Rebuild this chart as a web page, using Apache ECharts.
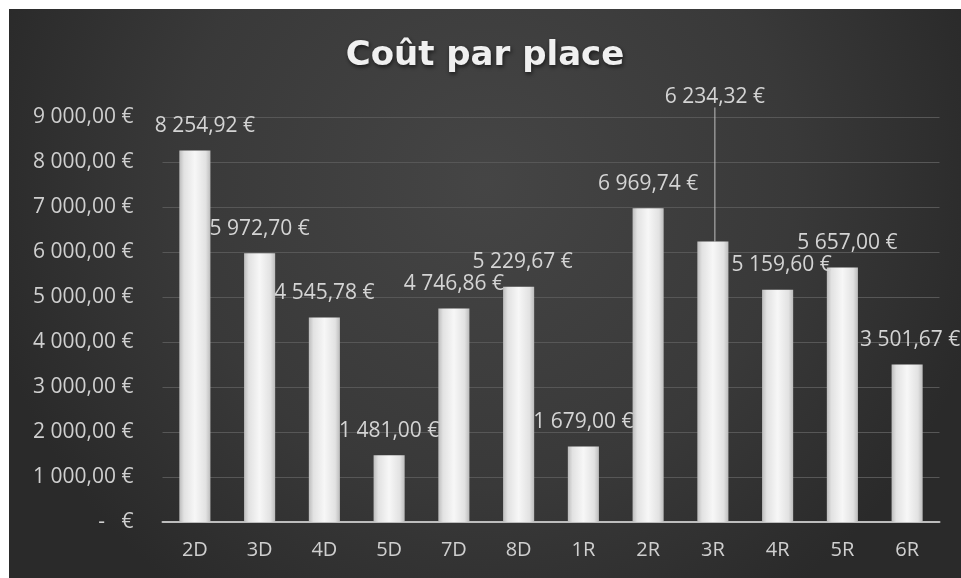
<!DOCTYPE html>
<html lang="fr">
<head>
    <meta charset="UTF-8">
    <title>Coût par place</title>
    <style>
        html, body { margin: 0; padding: 0; background: #fff; }
        #main { position: absolute; left: 9px; top: 9px; width: 952px; height: 569px; }
    </style>
</head>
<body>
<div id="main"></div>
<script src="https://cdn.jsdelivr.net/npm/echarts@6/dist/echarts.min.js"></script>
<script>
const categories = ['2D', '3D', '4D', '5D', '7D', '8D', '1R', '2R', '3R', '4R', '5R', '6R']
const costs = [8254.92, 5972.70, 4545.78, 1481.00, 4746.86, 5229.67, 1679.00, 6969.74, 6234.32, 5159.60, 5657.00, 3501.67]

// labels moved by hand in the original chart
const labelDx = [10, 0, 0, 0, 0, 4, 0, 0, 2, 4, 5, 3]
const labelDy = [0, 0, 0, 0, 0, 0, 0, 0, -120, 0, 0, 0]
const LEADER_INDEX = 8

const FONT = '"Open Sans", "Noto Sans", sans-serif'

function euro(v) {
    if (v === 0) return '-   €'
    let parts = v.toFixed(2).split('.')
    let int = parts[0].replace(/\B(?=(\d{3})+(?!\d))/g, ' ')
    return int + ',' + parts[1] + ' €'
}

let chartDom = document.getElementById('main')
let myChart = echarts.init(chartDom)

let barColor = new echarts.graphic.LinearGradient(0, 0, 1, 0, [
    {offset: 0, color: '#bcbcbc'},
    {offset: 0.15, color: '#e2e2e2'},
    {offset: 0.5, color: '#f7f7f7'},
    {offset: 0.85, color: '#e2e2e2'},
    {offset: 1, color: '#bcbcbc'}
])

let data = costs.map((v, i) => {
    let item = {value: v}
    if (i === LEADER_INDEX) item.labelLine = {show: true}
    return item
})

let option = {
    backgroundColor: new echarts.graphic.RadialGradient(0.5, 0.3, 0.9, [
        {offset: 0, color: '#454545'},
        {offset: 0.6, color: '#393939'},
        {offset: 1, color: '#2a2a2a'}
    ]),
    animation: false,
    title: {
        text: 'Coût par place',
        left: 'center',
        top: 25,
        textStyle: {
            color: '#f0f0f0',
            fontFamily: '"DejaVu Sans", sans-serif',
            fontSize: 34,
            fontWeight: 'bold',
            textShadowColor: 'rgba(0,0,0,0.6)',
            textShadowBlur: 4,
            textShadowOffsetX: 1,
            textShadowOffsetY: 2
        }
    },
    grid: {left: 153.5, right: 21.5, top: 108, bottom: 56, containLabel: false},
    xAxis: {
        type: 'category',
        data: categories,
        axisTick: {show: false},
        axisLine: {lineStyle: {color: '#bdbdbd', width: 2}},
        axisLabel: {color: '#cfcfcf', fontFamily: FONT, fontSize: 20, margin: 18}
    },
    yAxis: {
        type: 'value',
        min: 0,
        max: 9000,
        interval: 1000,
        axisLine: {show: false},
        axisTick: {show: false},
        splitLine: {lineStyle: {color: '#575757', width: 1}},
        axisLabel: {
            color: '#cfcfcf',
            fontFamily: FONT,
            fontSize: 21,
            margin: 29,
            formatter: euro
        }
    },
    series: [{
        type: 'bar',
        data: data,
        barWidth: '48%',
        itemStyle: {color: barColor},
        label: {
            show: true,
            position: 'top',
            distance: 14,
            color: '#d4d4d4',
            fontFamily: FONT,
            fontSize: 21,
            formatter: p => euro(p.value)
        },
        labelLine: {show: false, lineStyle: {color: '#bfbfbf', width: 1}},
        labelLayout: p => ({dx: labelDx[p.dataIndex], dy: labelDy[p.dataIndex]})
    }]
}

option && myChart.setOption(option)
</script>
</body>
</html>
